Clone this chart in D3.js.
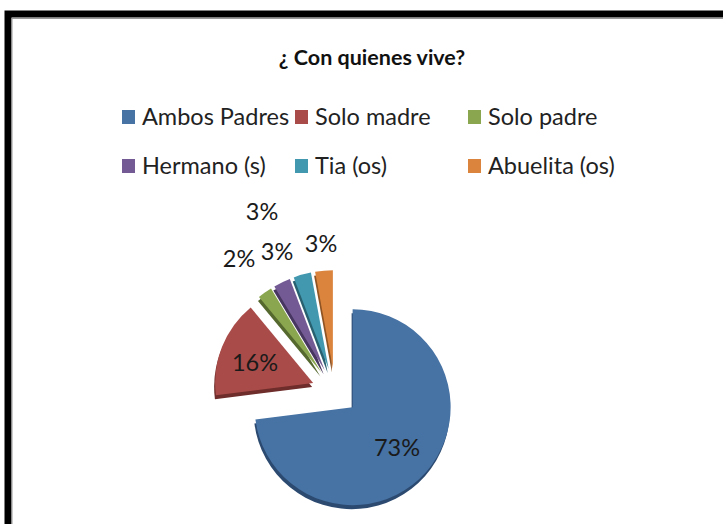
<!DOCTYPE html>
<html><head><meta charset="utf-8">
<script src="https://cdn.jsdelivr.net/npm/d3@7"></script>
<style>html,body{margin:0;padding:0;background:#fff}svg{display:block}</style>
</head><body><svg id="c" width="723" height="524"></svg>
<script>
const chartTitle = "¿ Con quienes vive?";
const categories = ["Ambos Padres","Solo madre","Solo padre","Hermano (s)","Tia (os)","Abuelita (os)"];
const values = [73,16,2.4,2.8,2.9,2.9];
const colors = ["#4672a4","#a94c49","#8aa64f","#735a94","#4298af","#db843d"];
const shades = ["#2c4a70","#6e2c2a","#55682e","#47365f","#28606f","#8f5424"];
const labelPos = [[397,448],[255,363],[239,259],[277,252],[262,212],[321,244]];
const legendCols = [122,295,468], legendRows = [117,166];

const svg = d3.select("#c"), font = "Lato, Carlito, 'Open Sans', sans-serif";
// frame
svg.append("path").attr("d","M8,524V14H723").attr("fill","none").attr("stroke","#000").attr("stroke-width",7);
svg.append("path").attr("d","M12,524V18.5H723").attr("fill","none").attr("stroke","#999").attr("stroke-width",1);

svg.append("text").attr("x",372).attr("y",65).attr("text-anchor","middle")
  .attr("font-family",font).attr("font-weight",700).attr("font-size",21.5).attr("fill","#111").text(chartTitle);

const lg = svg.selectAll("g.l").data(categories).join("g").attr("class","l")
  .attr("transform",(d,i)=>`translate(${legendCols[i%3]},${legendRows[Math.floor(i/3)]})`);
lg.append("rect").attr("y",-7).attr("width",13).attr("height",14).attr("fill",(d,i)=>colors[i]);
lg.append("text").attr("x",20).attr("y",8).attr("font-family",font).attr("font-size",23.5).attr("fill","#222").text(d=>d);

const cx=335, cy=391.6, R=98, explode=23.5;
const pie=d3.pie().sort(null)(values);
const arc=d3.arc().innerRadius(0).outerRadius(R);
const off=d=>{const a=(d.startAngle+d.endAngle)/2;return [cx+Math.sin(a)*explode,cy-Math.cos(a)*explode];};
const order=[1,2,3,4,5,0];
const root=svg.append("g");
root.selectAll("path.s").data(pie).join("path").attr("class","s").attr("d",arc).attr("fill",(d,i)=>shades[i])
  .attr("transform",d=>{const o=off(d);return `translate(${o[0]-1},${o[1]+4})`;});
root.selectAll("path.t").data(pie).join("path").attr("class","t").attr("d",arc).attr("fill",(d,i)=>colors[i])
  .attr("transform",d=>{const o=off(d);return `translate(${o[0]},${o[1]})`;});
svg.selectAll("text.v").data(values).join("text").attr("class","v").attr("text-anchor","middle")
  .attr("x",(d,i)=>labelPos[i][0]).attr("y",(d,i)=>labelPos[i][1]+8)
  .attr("font-family",font).attr("font-size",23.5).attr("fill","#1a1a1a").text(d=>Math.round(d)+"%");
</script></body></html>
